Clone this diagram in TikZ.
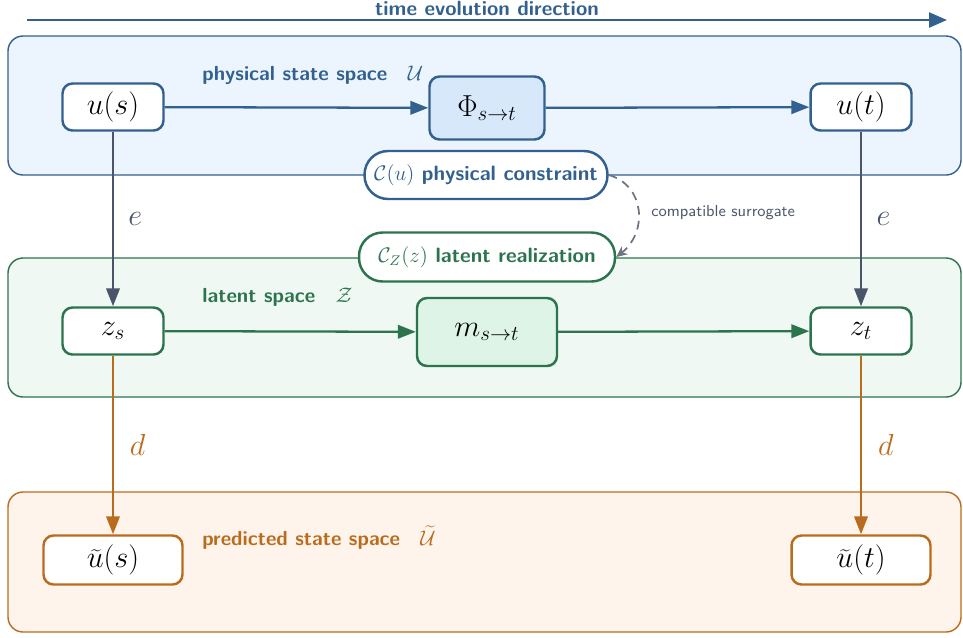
\documentclass[tikz,border=0pt]{standalone}
\usetikzlibrary{arrows.meta}
\definecolor{cblue}{RGB}{50,96,143}
\definecolor{cbluefill}{RGB}{236,244,253}
\definecolor{cbluenode}{RGB}{214,232,250}
\definecolor{cslate}{RGB}{72,85,106}
\definecolor{cgreen}{RGB}{44,116,78}
\definecolor{cgreenfill}{RGB}{239,248,242}
\definecolor{cgreennode}{RGB}{222,244,230}
\definecolor{corange}{RGB}{186,108,30}
\definecolor{corangefill}{RGB}{254,244,235}
\definecolor{cgrey}{RGB}{110,116,128}
\definecolor{cgreytext}{RGB}{78,88,108}
\tikzset{
  band/.style={rounded corners=0.3cm, line width=0.8pt},
  mathfont/.style={font=\fontsize{16.5}{19}\selectfont},
  statebox/.style={draw, fill=white, rounded corners=0.2cm, line width=1.4pt, mathfont, inner sep=0pt},
  pill/.style={draw, fill=white, rounded corners=0.47cm, line width=1.4pt, inner sep=0pt,
    font=\fontsize{11.8}{14}\selectfont\sffamily\bfseries},
  flow/.style={line width=1.3pt, -{Triangle[length=0.36cm,width=0.27cm]}},
  spacelabel/.style={anchor=west, inner sep=0pt, font=\fontsize{11.6}{14}\selectfont\sffamily\bfseries},
  maplabel/.style={mathfont},
}
\begin{document}
\begin{tikzpicture}[x=0.02cm, y=-0.02cm]
\useasboundingbox (0,0) rectangle (963,637);
% bands
\draw[band, draw=cblue, fill=cbluefill] (8,36) rectangle (961,175);
\draw[band, draw=cgreen, fill=cgreenfill] (8,258) rectangle (961,397);
\draw[band, draw=corange, fill=corangefill] (8,492) rectangle (961,632);

% time arrow
\coordinate (t0) at (27,20);
\coordinate (t1) at (947,20);
\draw[line width=1.4pt, cblue, -{Triangle[length=0.36cm,width=0.3cm]}] (t0) -- (t1);
\node[font=\fontsize{11.7}{14}\selectfont\sffamily\bfseries, text=cblue] (tl) at (487,8) {time evolution direction};

% space labels
\node[spacelabel, text=cblue] (lu) at (202,75) {physical state space\quad$\mathcal{U}$};
\node[spacelabel, text=cgreen] (lz) at (202,297) {latent space\quad$\mathcal{Z}$};
\node[spacelabel, text=corange] (lp) at (202,538) {predicted state space\quad$\widetilde{\mathcal{U}}$};

% nodes
\node[statebox, draw=cblue, minimum width=2.02cm, minimum height=0.94cm] (us) at (113,107) {$u(s)$};
\node[statebox, draw=cblue, fill=cbluenode, minimum width=2.3cm, minimum height=1.26cm] (phi) at (487,108) {$\Phi_{s\to t}$};
\node[statebox, draw=cblue, minimum width=2.02cm, minimum height=0.94cm] (ut) at (861,107) {$u(t)$};

\node[pill, draw=cblue, text=cblue, minimum width=4.86cm, minimum height=0.96cm] (cu) at (486,175) {$\mathcal{C}(u)$ physical constraint};
\node[pill, draw=cgreen, text=cgreen, minimum width=5.12cm, minimum height=0.98cm] (cz) at (487,257) {$\mathcal{C}_Z(z)$ latent realization};

\node[statebox, draw=cgreen, minimum width=2.02cm, minimum height=0.94cm] (zs) at (113,331) {$z_s$};
\node[statebox, draw=cgreen, fill=cgreennode, minimum width=2.8cm, minimum height=1.36cm] (m) at (487,332) {$m_{s\to t}$};
\node[statebox, draw=cgreen, minimum width=2.02cm, minimum height=0.94cm] (zt) at (861,331) {$z_t$};

\node[statebox, draw=corange, minimum width=2.78cm, minimum height=0.98cm] (pus) at (113,560) {$\widetilde{u}(s)$};
\node[statebox, draw=corange, minimum width=2.78cm, minimum height=0.98cm] (put) at (861,560) {$\widetilde{u}(t)$};

% arrows
\draw[flow, cblue] (us) -- (phi);
\draw[flow, cblue] (phi) -- (ut);
\draw[flow, cgreen] (zs) -- (m);
\draw[flow, cgreen] (m) -- (zt);
\draw[flow, cslate] (us) -- node[maplabel, text=cslate, right=0.17cm] (e1) {$e$} (zs);
\draw[flow, cslate] (ut) -- node[maplabel, text=cslate, right=0.17cm] (e2) {$e$} (zt);
\draw[flow, corange] (zs) -- node[maplabel, text=corange, right=0.2cm] (d1) {$d$} (pus);
\draw[flow, corange] (zt) -- node[maplabel, text=corange, right=0.2cm] (d2) {$d$} (put);

% dashed compatibility
\draw[cgrey, line width=1pt, dash pattern=on 5pt off 3.5pt, -{Stealth[length=0.22cm,width=0.2cm]}]
  (cu.east) .. controls +(36,10) and +(32,-25) .. (cz.east);
\node[anchor=west, inner sep=0pt, font=\fontsize{9.1}{11}\selectfont\sffamily, text=cgreytext] (cs) at (651,213) {compatible surrogate};
\end{tikzpicture}
\end{document}
